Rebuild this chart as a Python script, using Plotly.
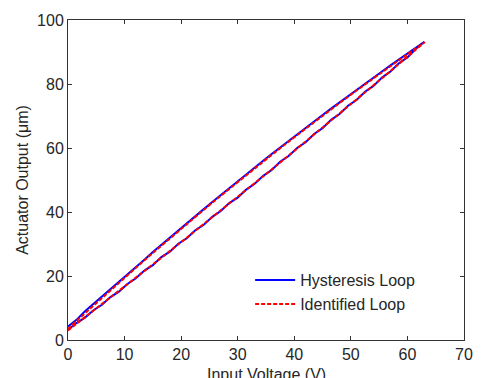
import plotly.graph_objects as go

# Measured hysteresis loop (blue): ascending branch then descending branch
hyst_up_x = [0, 1.5, 3, 4.5, 6, 7.5, 9, 10.5, 12, 13.5, 15, 16.5, 18, 19.5, 21, 22.5, 24, 25.5,
             27, 28.5, 30, 31.5, 33, 34.5, 36, 37.5, 39, 40.5, 42, 43.5, 45, 46.5, 48, 49.5,
             51, 52.5, 54, 55.5, 57, 58.5, 60, 61.5, 63]
hyst_up_y = [3.2, 5.3, 7.0, 9.3, 11.0, 13.4, 15.1, 17.5, 19.3, 21.7, 23.4, 25.9, 27.6, 30.1,
             31.8, 34.3, 36.0, 38.5, 40.3, 42.8, 44.5, 47.0, 48.8, 51.3, 53.1, 55.7, 57.5,
             60.0, 61.8, 64.4, 66.2, 68.8, 70.6, 73.2, 75.0, 77.6, 79.4, 82.0, 83.9, 86.5,
             88.3, 91.0, 93.2]
hyst_down_x = [63, 61.5, 60, 58.5, 57, 55.5, 54, 52.5, 51, 49.5, 48, 46.5, 45, 43.5, 42, 40.5,
               39, 37.5, 36, 34.5, 33, 31.5, 30, 28.5, 27, 25.5, 24, 22.5, 21, 19.5, 18, 16.5,
               15, 13.5, 12, 10.5, 9, 7.5, 6, 4.5, 3, 1.5, 0]
hyst_down_y = [93.2, 91.4, 89.5, 87.7, 85.8, 83.9, 82.0, 80.1, 78.2, 76.2, 74.3, 72.3, 70.3,
               68.3, 66.3, 64.3, 62.2, 60.1, 58.1, 56.0, 53.9, 51.8, 49.6, 47.5, 45.3, 43.1,
               40.9, 38.7, 36.5, 34.2, 32.0, 29.7, 27.5, 25.1, 22.8, 20.5, 18.2, 15.9, 13.9,
               11.6, 9.0, 6.3, 4.2]

# Identified (model) loop (red dashed)
ident_up_x = [0, 3, 6, 9, 12, 15, 18, 21, 24, 27, 30, 33, 36, 39, 42, 45, 48, 51, 54, 57, 60, 63]
ident_up_y = [3.0, 7.08, 11.17, 15.29, 19.43, 23.59, 27.77, 31.98, 36.19, 40.44, 44.70, 48.99,
              53.30, 57.63, 61.97, 66.35, 70.74, 75.15, 79.58, 84.04, 88.51, 93.01]
ident_down_x = [63, 60, 57, 54, 51, 48, 45, 42, 39, 36, 33, 30, 27, 24, 21, 18, 15, 12, 9, 6, 3, 0]
ident_down_y = [92.99, 89.32, 85.60, 81.82, 77.97, 74.06, 70.11, 66.08, 62.00, 57.85, 53.66,
                49.39, 45.07, 40.69, 36.25, 31.75, 27.20, 22.57, 17.89, 13.15, 8.36, 3.5]

x_ticks = [0, 10, 20, 30, 40, 50, 60, 70]
y_ticks = [0, 20, 40, 60, 80, 100]
x_title = "Input Voltage (V)"
y_title = "Actuator Output (\u03bcm)"

fig = go.Figure()
fig.add_trace(go.Scatter(
    x=hyst_up_x + hyst_down_x, y=hyst_up_y + hyst_down_y,
    mode="lines", name="Hysteresis Loop",
    line=dict(color="#0000ff", width=2)))
fig.add_trace(go.Scatter(
    x=ident_up_x + ident_down_x, y=ident_up_y + ident_down_y,
    mode="lines", name="Identified Loop",
    line=dict(color="#ff0000", width=2, dash="4px,2px")))

font = dict(family="Liberation Sans, Arial, sans-serif", size=16, color="#262626")
axis_common = dict(
    showgrid=False, zeroline=False, showline=True, linecolor="#333333", linewidth=1,
    mirror="ticks", ticks="inside", ticklen=4, tickcolor="#333333", tickfont=font,
    automargin=False)

fig.update_layout(
    width=482, height=378,
    margin=dict(l=68, r=18, t=20, b=38),
    paper_bgcolor="white", plot_bgcolor="white",
    font=font,
    showlegend=True,
    legend=dict(x=0.46, y=0.24, xanchor="left", yanchor="top",
                bgcolor="rgba(0,0,0,0)", borderwidth=0, font=font,
                tracegroupgap=0, itemwidth=40),
    xaxis=dict(range=[0, 70], tickvals=x_ticks, **axis_common),
    yaxis=dict(range=[0, 100], tickvals=y_ticks, title=dict(text=y_title, font=font, standoff=4),
               **axis_common),
    annotations=[dict(text=x_title, xref="paper", yref="paper", x=0.5, y=0,
                      xanchor="center", yanchor="middle", yshift=-34,
                      showarrow=False, font=font)],
)

fig.write_html("out.html")
